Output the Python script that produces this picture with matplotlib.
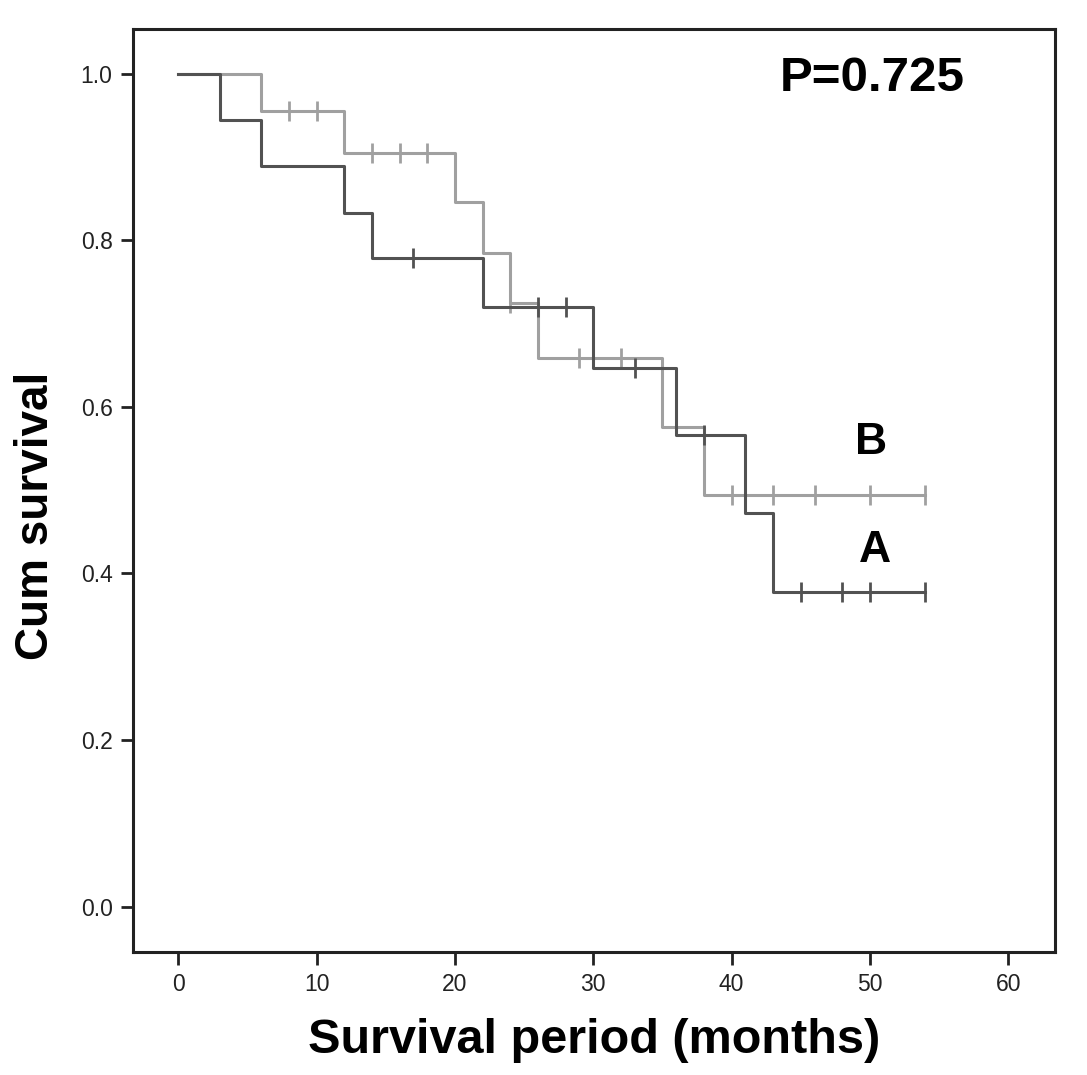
import matplotlib

matplotlib.use("Agg")
import matplotlib.pyplot as plt

plt.rcParams["font.family"] = ["Liberation Sans", "DejaVu Sans"]

# group A (dark): step times and survival after each step
a_time = [0, 3, 6, 12, 14, 22, 30, 36, 41, 43, 54]
a_surv = [1.0, 0.944, 0.889, 0.833, 0.778, 0.720, 0.647, 0.566, 0.472, 0.378, 0.378]
a_cens_t = [17, 26, 28, 33, 38, 45, 48, 50, 54]
a_cens_s = [0.778, 0.720, 0.720, 0.647, 0.566, 0.378, 0.378, 0.378, 0.378]

# group B (light grey)
b_time = [0, 6, 12, 20, 22, 24, 26, 35, 38, 54]
b_surv = [1.0, 0.955, 0.905, 0.846, 0.785, 0.724, 0.658, 0.576, 0.494, 0.494]
b_cens_t = [8, 10, 14, 16, 18, 24, 29, 32, 40, 43, 46, 50, 54]
b_cens_s = [0.955, 0.955, 0.905, 0.905, 0.905, 0.724, 0.658, 0.658, 0.494, 0.494, 0.494, 0.494, 0.494]

x_ticks = [0, 10, 20, 30, 40, 50, 60]
y_ticks = [0.0, 0.2, 0.4, 0.6, 0.8, 1.0]

DARK = "#525252"
LIGHT = "#a0a0a0"

fig = plt.figure(figsize=(10.87, 10.75), dpi=100)
ax = fig.add_axes([0.1227, 0.1147, 0.848, 0.858])

ax.step(b_time, b_surv, where="post", color=LIGHT, lw=2.2, zorder=2)
ax.plot(b_cens_t, b_cens_s, ls="none", marker="|", ms=14, mew=2.0, color=LIGHT, zorder=2)
ax.step(a_time, a_surv, where="post", color=DARK, lw=2.2, zorder=3)
ax.plot(a_cens_t, a_cens_s, ls="none", marker="|", ms=14, mew=2.0, color=DARK, zorder=3)

ax.set_xlim(-3.25, 63.4)
ax.set_ylim(-0.054, 1.053)
ax.set_xticks(x_ticks)
ax.set_yticks(y_ticks)
ax.set_yticklabels([f"{v:.1f}" for v in y_ticks])
ax.tick_params(direction="out", length=9, width=2.0, labelsize=16.5, pad=6, colors="#222222")
for s in ax.spines.values():
    s.set_linewidth(2.2)
    s.set_color("#222222")

ax.set_xlabel("Survival period (months)", fontsize=35, fontweight="bold", labelpad=16)
ax.set_ylabel("Cum survival", fontsize=33, fontweight="bold")
ax.yaxis.set_label_coords(-0.082, 0.473)

ax.text(43.5, 0.994, "P=0.725", fontsize=35.5, fontweight="bold", va="center", ha="left")
ax.text(50.1, 0.557, "B", fontsize=32, fontweight="bold", ha="center", va="center")
ax.text(50.4, 0.427, "A", fontsize=32, fontweight="bold", ha="center", va="center")

fig.savefig("out.png", dpi=100, facecolor="white")
